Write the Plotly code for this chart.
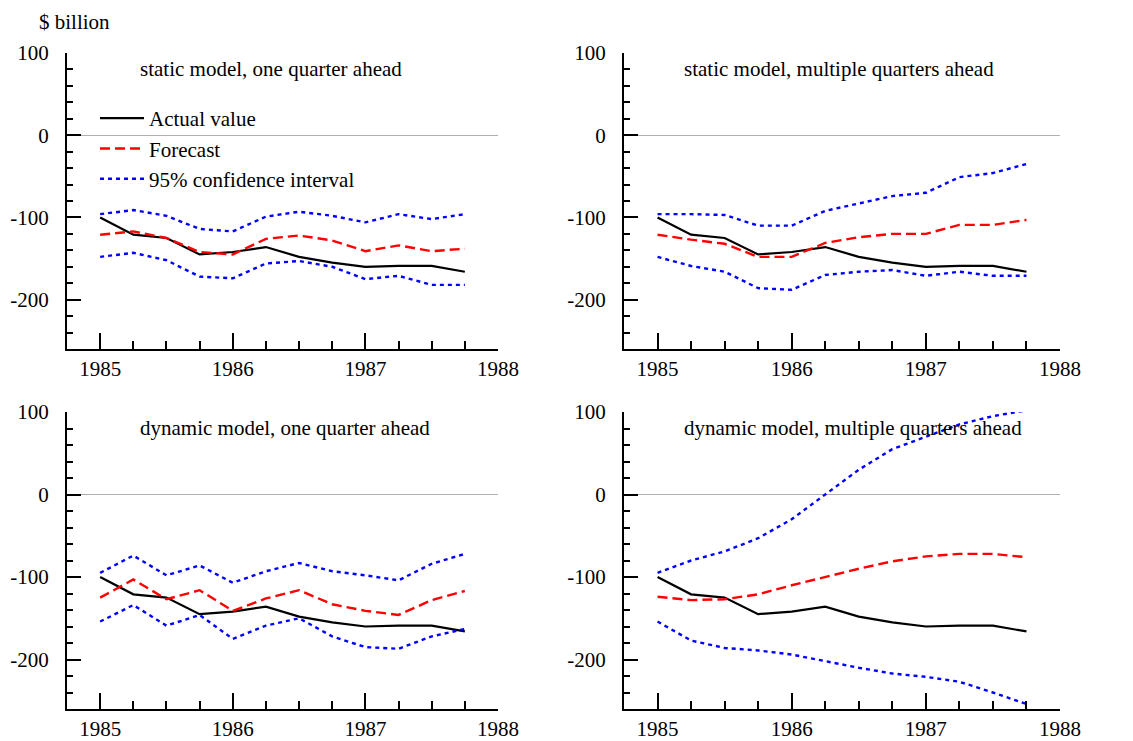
import plotly.graph_objects as go

quarters = [1985.0, 1985.25, 1985.5, 1985.75, 1986.0, 1986.25, 1986.5, 1986.75,
            1987.0, 1987.25, 1987.5, 1987.75]

actual = [-100, -121, -125, -145, -142, -136, -148, -155, -160, -159, -159, -166]

# static model, one quarter ahead
s1_fc = [-121, -117, -125, -142, -145, -126, -122, -128, -141, -134, -141, -138]
s1_up = [-96, -91, -98, -114, -117, -99, -93, -98, -106, -96, -102, -96]
s1_lo = [-148, -143, -152, -172, -174, -156, -153, -160, -175, -171, -182, -182]

# static model, multiple quarters ahead
sm_fc = [-121, -127, -132, -148, -148, -131, -124, -120, -120, -109, -109, -103]
sm_up = [-96, -96, -97, -110, -110, -92, -83, -74, -70, -51, -46, -35]
sm_lo = [-148, -159, -166, -186, -188, -170, -166, -164, -171, -166, -171, -171]

# dynamic model, one quarter ahead
d1_fc = [-125, -103, -127, -116, -141, -126, -116, -133, -141, -146, -128, -117]
d1_up = [-95, -74, -98, -86, -107, -93, -83, -93, -98, -104, -84, -72]
d1_lo = [-154, -134, -159, -146, -175, -159, -150, -172, -185, -187, -172, -163]

# dynamic model, multiple quarters ahead
dm_fc = [-124, -128, -127, -121, -110, -100, -90, -81, -75, -72, -72, -76]
dm_up = [-95, -80, -69, -53, -30, 0, 30, 55, 70, 85, 95, 102]
dm_lo = [-154, -177, -186, -189, -194, -202, -210, -217, -221, -227, -240, -254]

panel_titles = ["static model, one quarter ahead",
                "static model, multiple quarters ahead",
                "dynamic model, one quarter ahead",
                "dynamic model, multiple quarters ahead"]
x_tickvals = [1985, 1986, 1987, 1988]
x_ticktext = ["1985", "1986", "1987", "1988"]
y_tickvals = [100, 0, -100, -200]
y_ticktext = ["100", "0", "-100", "-200"]

W, H = 1133, 741
FONT = "Liberation Serif, Times New Roman, serif"
FS = 21

panels = [
    (s1_fc, s1_up, s1_lo),
    (sm_fc, sm_up, sm_lo),
    (d1_fc, d1_up, d1_lo),
    (dm_fc, dm_up, dm_lo),
]

# domains in pixel coordinates
xdom_px = [(67, 498), (624, 1060), (67, 498), (624, 1060)]
ydom_px = [(53, 349), (53, 349), (412, 709), (412, 709)]
title_pos = [(138, 69), (682, 69), (138, 428), (682, 428)]

fig = go.Figure()

for i, (fc, up, lo) in enumerate(panels):
    ax = "" if i == 0 else str(i + 1)
    xa, ya = "x" + ax, "y" + ax
    show = (i == 0)
    fig.add_trace(go.Scatter(x=quarters, y=actual, mode="lines", name="Actual value",
                             line=dict(color="black", width=2.2), xaxis=xa, yaxis=ya,
                             showlegend=show))
    fig.add_trace(go.Scatter(x=quarters, y=fc, mode="lines", name="Forecast",
                             line=dict(color="#ff0000", width=2.4, dash="10px,5px"),
                             xaxis=xa, yaxis=ya, showlegend=show))
    fig.add_trace(go.Scatter(x=quarters, y=up, mode="lines", name="95% confidence interval",
                             line=dict(color="#0000ff", width=2.4, dash="4px,4px"),
                             xaxis=xa, yaxis=ya, showlegend=show, legendgroup="ci"))
    fig.add_trace(go.Scatter(x=quarters, y=lo, mode="lines", name="95% confidence interval",
                             line=dict(color="#0000ff", width=2.4, dash="4px,4px"),
                             xaxis=xa, yaxis=ya, showlegend=False, legendgroup="ci"))

    x0, x1 = xdom_px[i]
    y0, y1 = ydom_px[i]
    fig.layout["xaxis" + ax] = dict(
        domain=[x0 / W, x1 / W], range=[1984.75, 1988], anchor=ya,
        showline=True, linecolor="black", linewidth=2, mirror=False,
        showgrid=False, zeroline=False,
        ticks="inside", ticklen=16, tickwidth=1.5, tickcolor="black",
        tickvals=x_tickvals, ticktext=x_ticktext,
        tickfont=dict(family=FONT, size=FS, color="black"),
        minor=dict(dtick=0.25, tick0=1985, ticks="inside", ticklen=8, tickwidth=1.5,
                   tickcolor="black", showgrid=False),
        ticklabelstandoff=0, automargin=False, fixedrange=True,
    )
    fig.layout["yaxis" + ax] = dict(
        domain=[1 - y1 / H, 1 - y0 / H], range=[-260, 100], anchor=xa,
        showline=True, linecolor="black", linewidth=2, mirror=False,
        showgrid=False, zeroline=True, zerolinecolor="#b0b0b0", zerolinewidth=1.2,
        ticks="inside", ticklen=14, tickwidth=1.5, tickcolor="black",
        tickvals=y_tickvals, ticktext=y_ticktext,
        tickfont=dict(family=FONT, size=FS, color="black"),
        minor=dict(dtick=20, tick0=0, ticks="inside", ticklen=6, tickwidth=1.5,
                   tickcolor="black", showgrid=False),
        ticklabelstandoff=12, automargin=False, fixedrange=True,
    )
    tx, ty = title_pos[i]
    fig.add_annotation(text=panel_titles[i], x=tx / W, y=1 - ty / H, xref="paper", yref="paper",
                       xanchor="left", yanchor="middle", showarrow=False,
                       font=dict(family=FONT, size=FS, color="black"))

fig.add_annotation(text="$ billion", x=37 / W, y=1 - 22 / H, xref="paper", yref="paper",
                   xanchor="left", yanchor="middle", showarrow=False,
                   font=dict(family=FONT, size=FS, color="black"))

fig.update_layout(
    width=W, height=H,
    margin=dict(l=0, r=0, t=0, b=0),
    paper_bgcolor="white", plot_bgcolor="white",
    font=dict(family=FONT, size=FS, color="black"),
    legend=dict(x=95 / W, y=1 - 98 / H, xanchor="left", yanchor="top",
                bgcolor="rgba(0,0,0,0)", borderwidth=0, itemwidth=44,
                font=dict(family=FONT, size=FS, color="black"), tracegroupgap=0),
)

fig.write_html("out.html")
